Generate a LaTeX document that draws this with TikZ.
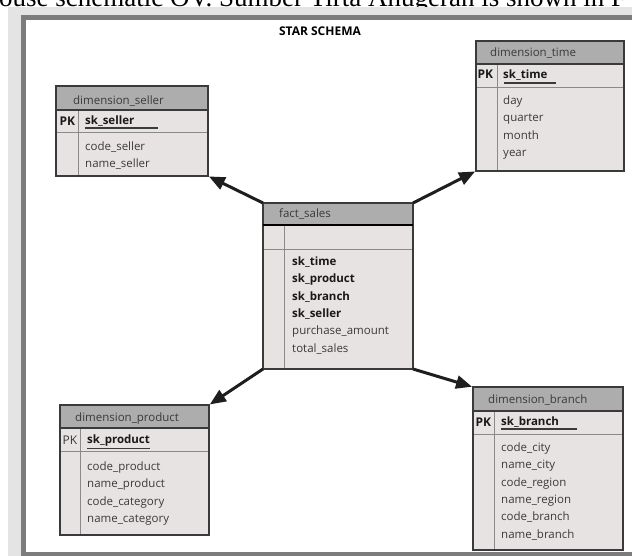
\documentclass[tikz,border=0pt]{standalone}
\usepackage{fontspec}
\setmainfont{Open Sans}
\newfontfamily\headserif{Liberation Serif}
\usetikzlibrary{arrows.meta,calc}
\definecolor{hdrgray}{HTML}{ADADAD}
\definecolor{bodygray}{HTML}{E8E3E3}
\definecolor{framegray}{HTML}{7C7C7C}
\definecolor{bggray}{HTML}{E4E4E4}
\definecolor{edgecol}{HTML}{3A3A3A}
\definecolor{txtcol}{HTML}{3A3A3A}
\definecolor{sepgray}{HTML}{8A8A8A}
\definecolor{arrcol}{HTML}{1E1E1E}

% #1 name, #2 left, #3 top, #4 right, #5 header bottom, #6 pk bottom, #7 bottom, #8 divider x
\newcommand\tablebox[8]{%
  \node[tblbox, anchor=north west, minimum width={(#4-#2)*1pt}, minimum height={(#7-#3)*1pt}] (#1) at (#2,#3) {};
  \fill[hdrgray] (#1.north west) rectangle (#4,#5);
  \draw[sepline] (#8,#5) -- (#8,#7);
  \draw[sepline] (#2,#6) -- (#4,#6);
  \draw[hdrline] (#2,#5) -- (#4,#5);
  \draw[edgeline] (#1.north west) rectangle (#1.south east);
}
% #1 prefix, #2 x, #3 first baseline y, #4 list
\newcommand\fieldlist[4]{%
  \foreach \t [count=\i] in {#4} {\node[field] (#1-\i) at (#2,{#3+(\i-1)*17.3}) {\t};}%
}

\begin{document}
\begin{tikzpicture}[x=1pt,y=-1pt,
  tblbox/.style={fill=bodygray, draw=none, inner sep=0pt, outer sep=0pt},
  edgeline/.style={draw=edgecol, line width=1.4pt},
  hdrline/.style={draw=edgecol, line width=1.3pt},
  sepline/.style={draw=sepgray, line width=0.9pt},
  field/.style={anchor=base west, inner sep=0pt, font=\fontsize{11.5}{13}\selectfont, text=txtcol},
  keyfield/.style={anchor=base west, inner sep=0pt, font=\fontsize{11.5}{13}\selectfont\bfseries, text=black!90},
  pkfield/.style={anchor=base west, inner sep=0pt, font=\fontsize{12}{13}\selectfont\bfseries, text=black!90},
  title/.style={anchor=base west, inner sep=0pt, font=\fontsize{11.5}{13}\selectfont, text=txtcol},
  uline/.style={draw=edgecol, line width=1.3pt},
  arr/.style={draw=arrcol, line width=3pt, shorten >=1pt, -{Triangle[length=16pt,width=13pt]}}
  ]
\useasboundingbox (0,0) rectangle (632,556);
\clip (0,0) rectangle (632,556);
\fill[white] (0,0) rectangle (632,556);
% cropped caption line from the page above
\node[anchor=base west, inner sep=0pt, font=\headserif\fontsize{27}{30}\selectfont] (caption) at (-1,6.5) {ouse schematic OV. Sumber Tirta Anugerah is shown in F};
% frame
\fill[bggray] (8,7) rectangle (640,560);
\fill[white] (23.5,17.5) rectangle (640,554);
\draw[draw=framegray, line width=4.5pt] (23.5,17.5) rectangle (650,554);

\node[font=\fontsize{12}{13}\selectfont\bfseries, text=black, inner sep=0pt] (schema) at (320,31) {STAR SCHEMA};

% dimension_seller
\tablebox{seller}{56}{86}{208}{110}{132}{176}{78}
\node[title] (seller-t) at (73,104.5) {dimension\_seller};
\node[pkfield] (seller-pk) at (59.5,125.5) {PK};
\node[keyfield] (seller-k) at (85,125) {sk\_seller};
\draw[uline] (85,128) -- (158,128);
\fieldlist{seller}{85}{150.5}{code\_seller,name\_seller}

% dimension_time
\tablebox{time}{476}{41}{624}{64}{87}{171}{497}
\node[title] (time-t) at (490,57) {dimension\_time};
\node[pkfield] (time-pk) at (477.5,79) {PK};
\node[keyfield] (time-k) at (503,78.5) {sk\_time};
\draw[uline] (504,83) -- (556,83);
\fieldlist{time}{503}{104.5}{day,quarter,month,year}

% fact_sales
\tablebox{fact}{263}{203}{413}{225}{249}{369}{284}
\node[title] (fact-t) at (279,218) {fact\_sales};
\draw[draw=black, line width=1.8pt] (263,225) -- (413,225);
\foreach \t [count=\i] in {sk\_time,sk\_product,sk\_branch,sk\_seller} {\node[keyfield] (factk-\i) at (292,{265.5+(\i-1)*17.3}) {\t};}
\node[field] (fact-5) at (292,334.7) {purchase\_amount};
\node[field] (fact-6) at (292,352) {total\_sales};

% dimension_product
\tablebox{product}{60}{405}{209}{428}{451}{535}{80}
\node[title] (product-t) at (75,421) {dimension\_product};
\node[field, font=\fontsize{12}{13}\selectfont] (product-pk) at (62.5,444) {PK};
\node[keyfield] (product-k) at (87,443.5) {sk\_product};
\draw[uline] (87,448.5) -- (150,448.5);
\fieldlist{product}{87}{470.5}{code\_product,name\_product,code\_category,name\_category}

% dimension_branch
\tablebox{branch}{473}{387}{623}{411}{434}{550}{494}
\node[title] (branch-t) at (488,403.5) {dimension\_branch};
\node[pkfield] (branch-pk) at (475.5,426) {PK};
\node[keyfield] (branch-k) at (501,425) {sk\_branch};
\draw[uline] (501,429) -- (577,429);
\fieldlist{branch}{501}{451.5}{code\_city,name\_city,code\_region,name\_region,code\_branch,name\_branch}

% connectors
\draw[arr] (fact.north west) -- (seller.south east);
\draw[arr] (fact.north east) -- (time.south west);
\draw[arr] (fact.south west) -- (product.north east);
\draw[arr] (fact.south east) -- (branch.north west);
\end{tikzpicture}
\end{document}
